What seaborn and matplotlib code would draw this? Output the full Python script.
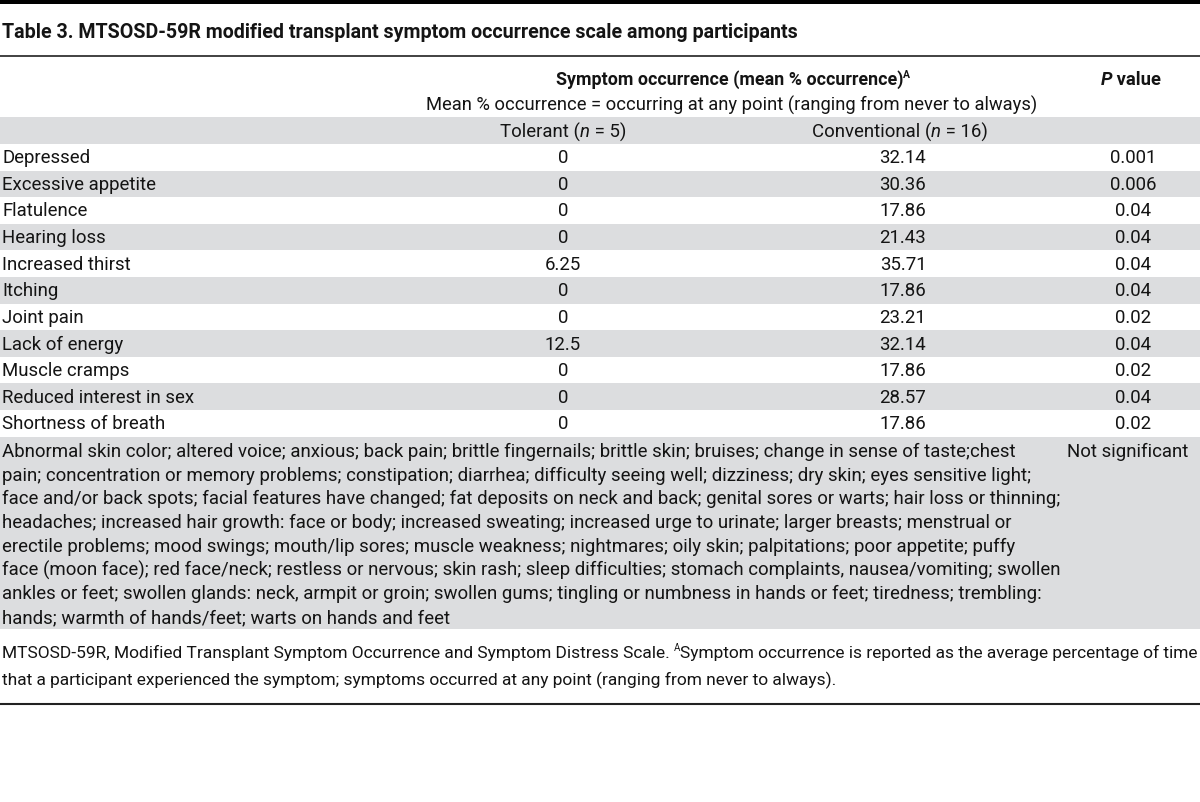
import matplotlib
matplotlib.use("Agg")
import matplotlib.pyplot as plt
import seaborn as sns

# ---------------- data ----------------
title = "Table 3. MTSOSD-59R modified transplant symptom occurrence scale among participants"
symptoms = ["Depressed", "Excessive appetite", "Flatulence", "Hearing loss", "Increased thirst",
            "Itching", "Joint pain", "Lack of energy", "Muscle cramps", "Reduced interest in sex",
            "Shortness of breath"]
tolerant = [0, 0, 0, 0, 6.25, 0, 0, 12.5, 0, 0, 0]
conventional = [32.14, 30.36, 17.86, 21.43, 35.71, 17.86, 23.21, 32.14, 17.86, 28.57, 17.86]
p_values = ["0.001", "0.006", "0.04", "0.04", "0.04", "0.04", "0.02", "0.04", "0.02", "0.04", "0.02"]
ns_lines = [
    "Abnormal skin color; altered voice; anxious; back pain; brittle fingernails; brittle skin; bruises; change in sense of taste;chest",
    "pain; concentration or memory problems; constipation; diarrhea; difficulty seeing well; dizziness; dry skin; eyes sensitive light;",
    "face and/or back spots; facial features have changed; fat deposits on neck and back; genital sores or warts; hair loss or thinning;",
    "headaches; increased hair growth: face or body; increased sweating; increased urge to urinate; larger breasts; menstrual or",
    "erectile problems; mood swings; mouth/lip sores; muscle weakness; nightmares; oily skin; palpitations; poor appetite; puffy",
    "face (moon face); red face/neck; restless or nervous; skin rash; sleep difficulties; stomach complaints, nausea/vomiting; swollen",
    "ankles or feet; swollen glands: neck, armpit or groin; swollen gums; tingling or numbness in hands or feet; tiredness; trembling:",
    "hands; warmth of hands/feet; warts on hands and feet",
]
ns_label = "Not significant"
footnote1 = ("MTSOSD-59R, Modified Transplant Symptom Occurrence and Symptom Distress Scale. ",
             "A", "Symptom occurrence is reported as the average percentage of time")
footnote2 = "that a participant experienced the symptom; symptoms occurred at any point (ranging from never to always)."

# ---------------- style ----------------
sns.set_theme(style="white")
FONT = "Roboto"
plt.rcParams["font.family"] = [FONT, "DejaVu Sans"]
TXT = "#141414"
GRAY = "#dcdddf"
FS = 13.4
FSB = 12.9
FSF = 12.5

fig = plt.figure(figsize=(12, 8.03), dpi=100)
ax = fig.add_axes([0, 0, 1, 1])
ax.set_xlim(0, 1200)
ax.set_ylim(803, 0)
ax.axis("off")
renderer = fig.canvas.get_renderer()


def runs(x, y, parts, ha="left"):
    """Draw a sequence of (text, kwargs) runs; parts kwargs may contain dy."""
    objs = []
    widths = []
    for s, kw in parts:
        kw = dict(kw)
        dy = kw.pop("dy", 0)
        t = ax.text(0, y + dy, s, va="center", ha="left", color=TXT, **kw)
        w = t.get_window_extent(renderer).width
        objs.append(t)
        widths.append(w)
    total = sum(widths)
    start = x - total / 2 if ha == "center" else x
    cur = start
    for t, w in zip(objs, widths):
        t.set_x(cur)
        cur += w


# top black bar
ax.axhspan(0, 5, color="black", lw=0)
ax.text(2, 33, title, fontsize=14.1, fontweight="bold", va="center", color=TXT)
ax.axhline(57, color="#333333", lw=1.3)

# header
runs(733, 80, [("Symptom occurrence (mean % occurrence)", dict(fontsize=FSB, fontweight="bold")),
               ("A", dict(fontsize=7.5, fontweight="bold", dy=-5))], ha="center")
runs(1131, 80, [("P", dict(fontsize=13.2, fontweight="bold", fontstyle="italic")),
                (" value", dict(fontsize=13.2, fontweight="bold"))], ha="center")
ax.text(732, 105, "Mean % occurrence = occurring at any point (ranging from never to always)",
        fontsize=13.2, ha="center", va="center", color=TXT)
ax.axhspan(118, 145, color=GRAY, lw=0)
runs(563, 132, [("Tolerant (", dict(fontsize=FS)), ("n", dict(fontsize=FS, fontstyle="italic")),
                (" = 5)", dict(fontsize=FS))], ha="center")
runs(900, 132, [("Conventional (", dict(fontsize=FS)), ("n", dict(fontsize=FS, fontstyle="italic")),
                (" = 16)", dict(fontsize=FS))], ha="center")

# rows
row_h = 26.6
top = 145
for i, (s, t, c, p) in enumerate(zip(symptoms, tolerant, conventional, p_values)):
    y0 = top + i * row_h
    if i % 2 == 1:
        ax.axhspan(y0, y0 + row_h, color=GRAY, lw=0)
    yc = y0 + row_h / 2
    ax.text(2, yc, s, fontsize=FS, va="center", color=TXT)
    ax.text(563, yc, f"{t:g}", fontsize=FS, va="center", ha="center", color=TXT)
    ax.text(903, yc, f"{c:.2f}", fontsize=FS, va="center", ha="center", color=TXT)
    ax.text(1133, yc, p, fontsize=FS, va="center", ha="center", color=TXT)

# non-significant block
y0 = top + len(symptoms) * row_h
ax.axhspan(y0, 630, color=GRAY, lw=0)
for j, line in enumerate(ns_lines):
    ax.text(2, 452 + j * 23.7, line, fontsize=FS, va="center", color=TXT)
ax.text(1128, 452, ns_label, fontsize=FS, va="center", ha="center", color=TXT)

# footnotes
runs(2, 653, [(footnote1[0], dict(fontsize=FSF)), (footnote1[1], dict(fontsize=7, dy=-5)),
              (footnote1[2], dict(fontsize=FSF))])
ax.text(2, 680, footnote2, fontsize=FSF, va="center", color=TXT)
ax.axhline(705, color="#222222", lw=1.5)

fig.savefig("out.png", dpi=100, facecolor="white")
